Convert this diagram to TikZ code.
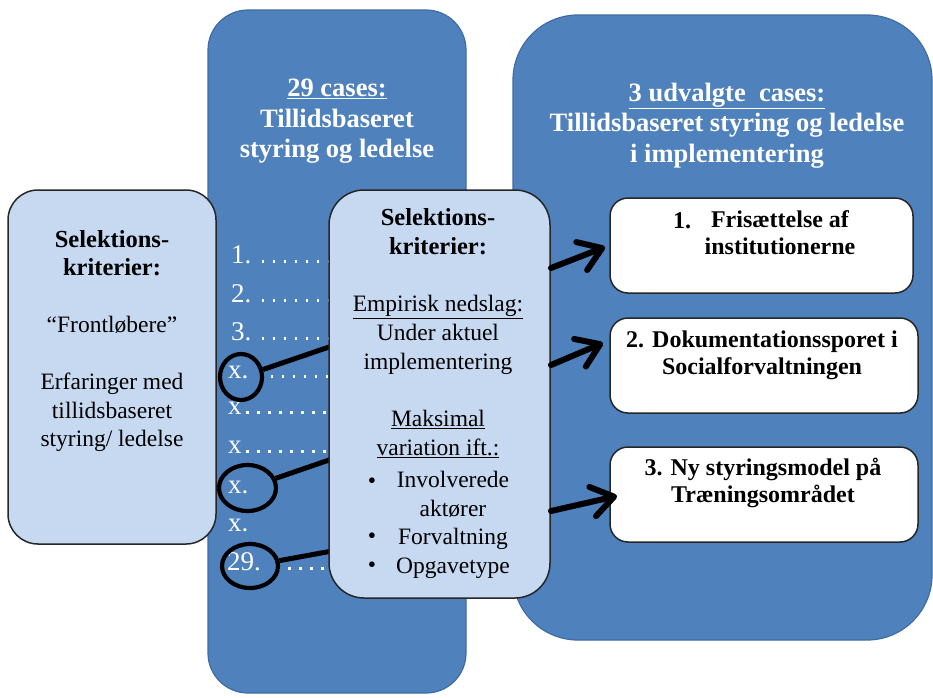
\documentclass[tikz,border=0pt]{standalone}
\usepackage{fontspec}
\setmainfont{Liberation Serif}
\usetikzlibrary{arrows.meta,shapes.geometric}
\definecolor{dblue}{HTML}{4F81BD}
\definecolor{dblueline}{HTML}{3F6CA3}
\definecolor{lblue}{HTML}{C6D9F1}
\definecolor{edge}{HTML}{262626}
\newcommand{\selhead}{\fontsize{24.5}{28.7}\selectfont\bfseries}
\begin{document}
\begin{tikzpicture}[x=1pt,y=-1pt,
  panel/.style={rectangle, anchor=north west, inner sep=0pt, outer sep=0pt},
  bigbox/.style={panel, draw=dblueline, line width=1.2pt, fill=dblue},
  lightbox/.style={panel, draw=edge, line width=1.5pt, fill=lblue},
  whitebox/.style={panel, draw=edge, line width=1.5pt, fill=white, rounded corners=18pt},
  hdr/.style={text=white, font=\fontsize{26.5}{30.5}\selectfont\bfseries, align=center, inner sep=0pt},
  body/.style={text=black, font=\fontsize{23.5}{28.7}\selectfont, align=center, inner sep=0pt},
  wtxt/.style={text=black, font=\fontsize{24}{27}\selectfont\bfseries, align=center, inner sep=0pt},
  num/.style={text=white, font=\fontsize{27}{30}\selectfont, anchor=base west, inner sep=0pt},
  leader/.style={draw=white, line width=2.8pt, dash pattern=on 2.8pt off 8.2pt},
  ring/.style={ellipse, draw=black, line width=4.2pt, inner sep=0pt},
  link/.style={draw=black, line width=5pt},
  arr/.style={draw=black, line width=6pt, line cap=round, -{Straight Barb[length=22pt,width=30pt,round]}}
]
\useasboundingbox (0,0) rectangle (933,697);

% large panels
\node[bigbox, rounded corners=65pt, minimum width=419pt, minimum height=625pt] (right) at (513,15) {};
\node[bigbox, rounded corners=40pt, minimum width=258pt, minimum height=683pt] (col) at (208,10) {};
\node[lightbox, rounded corners=30pt, minimum width=208pt, minimum height=354pt] (left) at (8,190) {};

% headers
\node[hdr] (h1) at (337,121.5) {\underline{29 cases:}\\Tillidsbaseret\\styring og ledelse};
\node[hdr] (h2) at (727,125.5) {\underline{3 udvalgte\ \ cases:}\\Tillidsbaseret styring og ledelse\\i implementering};

% left box text
\node[body] (ltxt) at (112,341) {{\selhead Selektions-}\\{\selhead kriterier:}\\[28pt]“Frontløbere”\\[28pt]Erfaringer med\\tillidsbaseret\\styring/ ledelse};

% white boxes
\node[whitebox, minimum width=303pt, minimum height=95pt] (w1) at (610,198) {};
\node[whitebox, minimum width=308pt, minimum height=95pt] (w2) at (610,318) {};
\node[whitebox, minimum width=308pt, minimum height=95pt] (w3) at (610,447) {};
\node[wtxt, anchor=base west] (w1n) at (673,228) {1.};
\node[wtxt] (w1t) at (780,233) {Frisættelse af\\institutionerne};
\node[wtxt] (w2t) at (762,355.5) {2. Dokumentationssporet i\\Socialforvaltningen};
\node[wtxt] (w3t) at (763,482.5) {3. Ny styringsmodel på\\Træningsområdet};

% list of cases
\node[num] (n1) at (231,263) {1.};
\node[num] (n2) at (231,302) {2.};
\node[num] (n3) at (231,340) {3.};
\node[num] (n4) at (228,378) {x.};
\node[num] (n5) at (228,414) {x};
\node[num] (n6) at (228,453) {x};
\node[num] (n7) at (228,493) {x.};
\node[num] (n8) at (228,531) {x.};
\node[num] (n9) at (227,570) {29.};

\coordinate (midnw) at (329,190);
\draw[leader] ([xshift=10pt,yshift=1.4pt]n1.base east) -- ([yshift=1.4pt]n1.base east -| midnw);
\draw[leader] ([xshift=10pt,yshift=1.4pt]n2.base east) -- ([yshift=1.4pt]n2.base east -| midnw);
\draw[leader] ([xshift=10pt,yshift=1.4pt]n3.base east) -- ([yshift=1.4pt]n3.base east -| midnw);
\draw[leader] ([xshift=22pt,yshift=1.4pt]n4.base east) -- ([yshift=1.4pt]n4.base east -| midnw);
\draw[leader] ([xshift=4pt,yshift=1.4pt]n5.base east) -- ([yshift=1.4pt]n5.base east -| midnw);
\draw[leader] ([xshift=4pt,yshift=1.4pt]n6.base east) -- ([yshift=1.4pt]n6.base east -| midnw);
\draw[leader] ([xshift=16pt,yshift=1.4pt]n9.base east) -- ([yshift=1.4pt]n9.base east -| midnw);

% rings and links
\node[ring, minimum width=42pt, minimum height=46pt] (c1) at (241,377) {};
\node[ring, minimum width=57pt, minimum height=46pt] (c2) at (247.5,488) {};
\node[ring, minimum width=56pt, minimum height=44pt] (c3) at (250,566) {};
\coordinate (e1) at (332,346);
\coordinate (e2) at (332,459);
\coordinate (e3) at (332,551);
\draw[link] (c1) -- (e1);
\draw[link] (c2) -- (e2);
\draw[link] (c3) -- (e3);

% middle selection box
\node[lightbox, rounded corners=35pt, minimum width=221pt, minimum height=408pt] (mid) at (midnw) {};
\node[body] (mtxt) at (438,333) {{\selhead Selektions-}\\{\selhead kriterier:}\\[28.7pt]\underline{Empirisk nedslag:}\\Under aktuel\\implementering\\[28.7pt]\underline{Maksimal}\\\underline{variation ift.:}};
\node[body] (mitems) at (453,525) {Involverede\\aktører\\Forvaltning\\Opgavetype};
\node[body, anchor=base] (b1) at (372,488) {\textbullet};
\node[body, anchor=base] (b2) at (372,543) {\textbullet};
\node[body, anchor=base] (b3) at (372,572) {\textbullet};

% arrows to the three cases
\coordinate (a1) at (551,268);
\coordinate (a2) at (551,365);
\coordinate (a3) at (551,511);
\coordinate (t1) at (605,247);
\coordinate (t2) at (603,343);
\coordinate (t3) at (617,496);
\draw[arr] (a1) -- (t1);
\draw[arr] (a2) -- (t2);
\draw[arr] (a3) -- (t3);
\end{tikzpicture}
\end{document}
